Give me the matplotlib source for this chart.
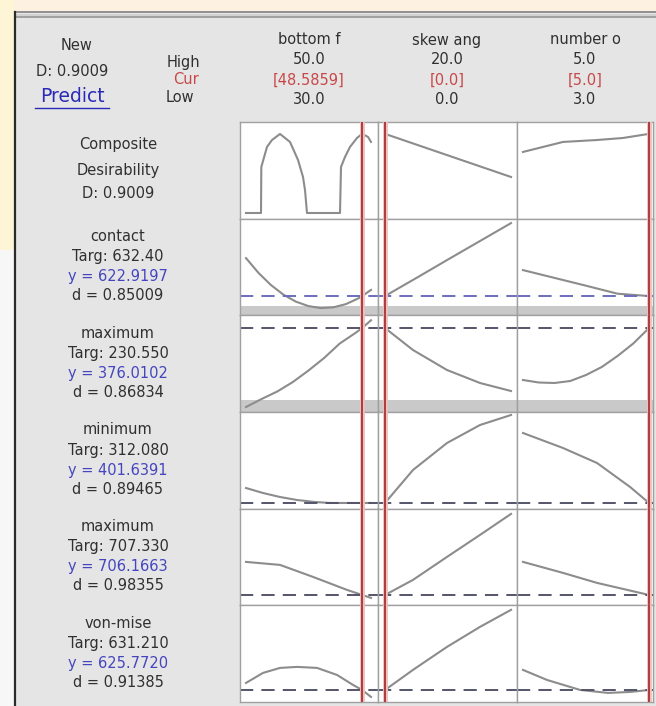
import matplotlib
matplotlib.use('Agg')
import matplotlib.pyplot as plt
from matplotlib.patches import Rectangle
from matplotlib.lines import Line2D

# ---------------- data ----------------
factors = ['bottom f', 'skew ang', 'number o']
high_labels = ['50.0', '20.0', '5.0']
cur_labels = ['[48.5859]', '[0.0]', '[5.0]']
low_labels = ['30.0', '0.0', '3.0']
cur_values = [48.5859, 0.0, 5.0]

responses = ['contact', 'maximum', 'minimum', 'maximum', 'von-mise']
targets = ['632.40', '230.550', '312.080', '707.330', '631.210']
y_current = [622.9197, 376.0102, 401.6391, 706.1663, 625.7720]
d_values = ['0.85009', '0.86834', '0.89465', '0.98355', '0.91385']
D_composite = 0.9009

# composite desirability
comp_x1 = [30, 32.4, 32.45, 33.36, 34.16, 35.44, 37.04, 38.32, 39.12, 39.44, 39.76,
           45.04, 45.2, 45.84, 46.64, 47.76, 48.5859, 49.52, 50]
comp_d1 = [0, 0, 0.524, 0.752, 0.831, 0.90, 0.809, 0.604, 0.41, 0.262, 0,
           0, 0.524, 0.638, 0.752, 0.854, 0.901, 0.866, 0.809]
comp_x2 = [0, 20]
comp_d2 = [0.901, 0.41]
comp_x3 = [3, 3.635, 4.175, 4.587, 5]
comp_d3 = [0.695, 0.809, 0.831, 0.854, 0.901]

# contact
contact_x1 = [30, 32, 34, 36, 38, 40, 42, 44, 46, 48, 48.5859, 50]
contact_y1 = [641.9, 634.5, 628.4, 623.6, 620.1, 617.9, 616.9, 617.3, 618.9, 621.8, 622.92, 626.0]
contact_x2 = [0, 5, 10, 15, 20]
contact_y2 = [622.92, 632.0, 641.2, 650.3, 659.4]
contact_x3 = [3, 3.5, 4, 4.5, 5]
contact_y3 = [635.9, 632.0, 628.1, 624.1, 622.92]

# maximum (targ 230.55)
max1_x1 = [30, 32.5, 35, 37.5, 40, 42.5, 45, 47.5, 48.5859, 50]
max1_y1 = [218, 234, 249, 268, 291, 316, 345, 366, 376.01, 391.5]
max1_x2 = [0, 4.44, 9.84, 15.08, 20]
max1_y2 = [376.01, 332.0, 292.0, 266.0, 250.0]
max1_x3 = [3, 3.25, 3.5, 3.75, 4.0, 4.25, 4.5, 4.75, 5]
max1_y3 = [272, 267, 266, 270, 282, 298, 320, 345, 376.01]

# minimum
min_x1 = [30, 32.72, 35.44, 38.16, 41.04, 43.44, 48.5859, 50]
min_y1 = [431.6, 421.6, 413.6, 407.6, 403.6, 401.64, 401.64, 401.64]
min_x2 = [0, 4.44, 9.84, 15.08, 20]
min_y2 = [401.64, 467.6, 521.6, 557.6, 577.6]
min_x3 = [3, 3.635, 4.175, 4.70, 5]
min_y3 = [541.6, 511.6, 481.6, 433.6, 401.64]

# maximum (targ 707.33)
max2_x1 = [30, 35.44, 40.72, 46.16, 48.5859, 50]
max2_y1 = [722.7, 721.2, 715.2, 708.7, 706.17, 704.7]
max2_x2 = [0, 4.44, 9.84, 15.08, 20]
max2_y2 = [706.17, 713.7, 725.2, 736.2, 746.7]
max2_x3 = [3, 3.635, 4.175, 5]
max2_y3 = [722.7, 717.2, 712.2, 706.17]

# von-mise
von_x1 = [30, 32.72, 35.44, 38.16, 41.36, 44.56, 47.12, 48.5859, 50]
von_y1 = [629.3, 634.3, 636.8, 637.3, 636.8, 633.3, 628.3, 625.77, 622.3]
von_x2 = [0, 4.44, 9.84, 15.08, 20]
von_y2 = [625.77, 635.8, 647.3, 657.3, 665.8]
von_x3 = [3, 3.38, 3.905, 4.35, 4.70, 5]
von_y3 = [635.8, 630.8, 625.8, 624.3, 624.8, 625.77]

rows_curves = [
    [(comp_x1, comp_d1), (comp_x2, comp_d2), (comp_x3, comp_d3)],
    [(contact_x1, contact_y1), (contact_x2, contact_y2), (contact_x3, contact_y3)],
    [(max1_x1, max1_y1), (max1_x2, max1_y2), (max1_x3, max1_y3)],
    [(min_x1, min_y1), (min_x2, min_y2), (min_x3, min_y3)],
    [(max2_x1, max2_y1), (max2_x2, max2_y2), (max2_x3, max2_y3)],
    [(von_x1, von_y1), (von_x2, von_y2), (von_x3, von_y3)],
]

# ---------------- layout ----------------
W, H = 656, 706
fig = plt.figure(figsize=(W / 100, H / 100), dpi=100)
fig.patch.set_facecolor('#e5e5e5')

def fx(px):
    return px / W

def fy(py):
    return 1 - py / H

# outside area
fig.patches.append(Rectangle((0, fy(11)), 1, 11 / H, transform=fig.transFigure,
                             facecolor='#fdf1e2', edgecolor='none', zorder=0))
fig.patches.append(Rectangle((0, fy(250)), 14 / W, 250 / H, transform=fig.transFigure,
                             facecolor='#fdf5d6', edgecolor='none', zorder=0))
fig.patches.append(Rectangle((0, 0), 14 / W, fy(250), transform=fig.transFigure,
                             facecolor='#f7f7f7', edgecolor='none', zorder=0))
# frame
for yy, c in [(12, '#8a8a8a'), (14.5, '#d0d0d0'), (17, '#9a9a9a')]:
    fig.lines.append(Line2D([fx(15), 1], [fy(yy), fy(yy)], transform=fig.transFigure,
                            color=c, lw=1.3, zorder=5))
fig.lines.append(Line2D([fx(15), fx(15)], [fy(12), 0], transform=fig.transFigure,
                        color='#2a2a2a', lw=1.6, zorder=5))

col_edges = [240, 378, 517, 653]
row_edges = [122, 218.7, 315.3, 412, 508.7, 605.3, 702]
xlims = [(29.04, 51.12), (-1.11, 20.95), (2.905, 5.063)]
ylims = [(-0.065, 1.036), (613.3, 661.6), (208.0, 401.4), (390.2, 583.6),
         (701.0, 749.3), (619.77, 668.07)]
band_frac = {1: (315.3 - 306.5) / 96.6, 2: (412 - 400) / 96.6}

curve_color = '#8c8c8c'
for r in range(6):
    for c in range(3):
        x0, x1 = col_edges[c], col_edges[c + 1]
        y0, y1 = row_edges[r], row_edges[r + 1]
        ax = fig.add_axes([fx(x0), fy(y1), (x1 - x0) / W, (y1 - y0) / H])
        ax.set_facecolor('white')
        ax.set_xlim(*xlims[c])
        ax.set_ylim(*ylims[r])
        ax.set_xticks([])
        ax.set_yticks([])
        for s in ax.spines.values():
            s.set_color('#a0a0a0')
            s.set_linewidth(1.0)
        if r in band_frac:
            ax.add_patch(Rectangle((0, 0), 1, band_frac[r], transform=ax.transAxes,
                                   facecolor='#c9c9c9', edgecolor='none', zorder=1))
        xs, ys = rows_curves[r][c]
        ax.plot(xs, ys, color=curve_color, lw=1.5, zorder=2, solid_joinstyle='round')
        if r > 0:
            dcol = '#6d6dc0' if r == 1 else '#55556a'
            ax.axhline(y_current[r - 1], color=dcol, lw=1.4, ls=(0, (6.8, 4.2)), zorder=2)
        ax.axvline(cur_values[c], color='#f0c0c0', lw=3.5, zorder=3)
        ax.axvline(cur_values[c], color='#a83232', lw=1.3, zorder=4)

# ---------------- text ----------------
tc = '#303030'
fs = 10.5
def T(px, py, s, color=tc, size=fs, **kw):
    fig.text(fx(px), fy(py), s, color=color, fontsize=size, ha='center', va='center',
             family='DejaVu Sans', **kw)

T(77, 45, 'New')
T(72, 72, 'D: 0.9009')
T(72, 97, 'Predict', color='#2a2ab8', size=13.5)
fig.lines.append(Line2D([fx(35), fx(109)], [fy(108), fy(108)], transform=fig.transFigure,
                        color='#2a2ab8', lw=1.0))
T(183, 62, 'High')
T(186, 80, 'Cur', color='#c84848')
T(180, 98, 'Low')

col_centers = [309, 447, 585]
for c in range(3):
    T(col_centers[c], 40, factors[c])
    T(col_centers[c], 60, high_labels[c])
    T(col_centers[c], 80, cur_labels[c], color='#c84848')
    T(col_centers[c], 100, low_labels[c])

lx = 118
T(lx, 145, 'Composite')
T(lx, 170, 'Desirability')
T(lx, 193, 'D: %.4f' % D_composite)
for i in range(5):
    top = row_edges[i + 1]
    T(lx, top + 18, responses[i])
    T(lx, top + 38, 'Targ: ' + targets[i])
    T(lx, top + 58, 'y = %.4f' % y_current[i], color='#4545c0')
    T(lx, top + 77, 'd = ' + d_values[i])

fig.savefig('out.png', dpi=100, facecolor=fig.get_facecolor())
